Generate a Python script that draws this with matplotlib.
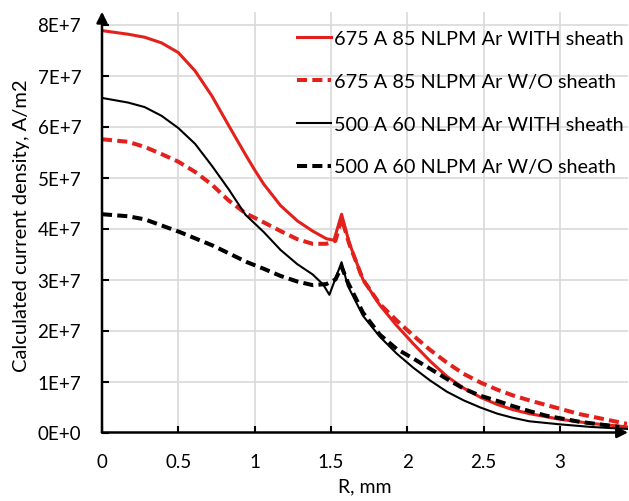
import matplotlib.pyplot as plt
from matplotlib.ticker import FuncFormatter, MultipleLocator

# radius (mm) and current density (x 1E+7 A/m2)
r_675_with = [0, 0.17, 0.28, 0.39, 0.5, 0.61, 0.72, 0.83, 0.94, 1.0, 1.06, 1.17,
              1.28, 1.38, 1.47, 1.52, 1.57, 1.62, 1.71, 1.82, 1.93, 2.04, 2.15,
              2.26, 2.37, 2.48, 2.59, 2.69, 2.80, 3.0, 3.2, 3.44]
j_675_with = [7.88, 7.81, 7.75, 7.64, 7.45, 7.09, 6.60, 6.02, 5.45, 5.15, 4.87, 4.45,
              4.15, 3.95, 3.80, 3.77, 4.28, 3.72, 3.00, 2.50, 2.10, 1.74, 1.40,
              1.10, 0.87, 0.69, 0.55, 0.45, 0.37, 0.26, 0.18, 0.11]

r_675_wo = [0, 0.17, 0.28, 0.39, 0.5, 0.61, 0.72, 0.83, 0.94, 1.06, 1.17, 1.28,
            1.38, 1.47, 1.53, 1.57, 1.62, 1.71, 1.82, 1.93, 2.04, 2.15, 2.26,
            2.37, 2.48, 2.59, 2.69, 2.80, 2.91, 3.13, 3.44]
j_675_wo = [5.75, 5.70, 5.60, 5.46, 5.31, 5.11, 4.86, 4.55, 4.30, 4.12, 3.95, 3.79,
            3.70, 3.70, 3.76, 4.20, 3.70, 3.00, 2.52, 2.20, 1.90, 1.62, 1.37,
            1.15, 0.98, 0.84, 0.73, 0.63, 0.54, 0.36, 0.17]

r_500_with = [0, 0.17, 0.28, 0.39, 0.5, 0.61, 0.72, 0.83, 0.94, 1.06, 1.17, 1.28,
              1.38, 1.45, 1.49, 1.57, 1.61, 1.71, 1.82, 1.93, 2.04, 2.15, 2.26,
              2.37, 2.48, 2.59, 2.69, 2.80, 3.0, 3.2, 3.44]
j_500_with = [6.56, 6.47, 6.38, 6.21, 5.97, 5.66, 5.23, 4.77, 4.27, 3.93, 3.58, 3.30,
              3.10, 2.90, 2.70, 3.34, 2.88, 2.29, 1.88, 1.55, 1.27, 1.02, 0.80,
              0.63, 0.49, 0.37, 0.29, 0.22, 0.16, 0.11, 0.07]

r_500_wo = [0, 0.17, 0.28, 0.39, 0.51, 0.73, 0.95, 1.06, 1.17, 1.28, 1.38, 1.47,
            1.53, 1.57, 1.61, 1.71, 1.82, 1.93, 2.04, 2.15, 2.26, 2.37, 2.48,
            2.59, 2.69, 2.80, 2.91, 3.13, 3.39]
j_500_wo = [4.28, 4.24, 4.18, 4.06, 3.93, 3.66, 3.34, 3.21, 3.07, 2.96, 2.89, 2.91,
            3.00, 3.25, 2.95, 2.35, 1.92, 1.64, 1.45, 1.25, 1.05, 0.86, 0.72,
            0.62, 0.52, 0.42, 0.33, 0.21, 0.11]

labels = ["675 A 85 NLPM Ar WITH sheath", "675 A 85 NLPM Ar W/O sheath",
          "500 A 60 NLPM Ar WITH sheath", "500 A 60 NLPM Ar W/O sheath"]

RED = "#e3211c"
W, H = 629, 502

plt.rcParams["font.family"] = ["Lato", "DejaVu Sans"]

fig = plt.figure(figsize=(W / 100, H / 100), dpi=100)
ax = fig.add_axes([102 / W, 1 - 433.5 / H, (628 - 102) / W, (433.5 - 12.75) / H])

dash = (0, (2.5, 1.3))
ax.plot(r_675_with, [v * 1e7 for v in j_675_with], color=RED, lw=2.2, label=labels[0])
ax.plot(r_675_wo, [v * 1e7 for v in j_675_wo], color=RED, lw=2.9, ls=dash, label=labels[1])
ax.plot(r_500_with, [v * 1e7 for v in j_500_with], color="black", lw=1.5, label=labels[2])
ax.plot(r_500_wo, [v * 1e7 for v in j_500_wo], color="black", lw=2.9, ls=dash, label=labels[3])

ax.set_xlim(0, (628 - 102) / 152.6)
ax.set_ylim(0, 8.25e7)
ax.xaxis.set_major_locator(MultipleLocator(0.5))
ax.yaxis.set_major_locator(MultipleLocator(1e7))
ax.xaxis.set_major_formatter(FuncFormatter(lambda v, _: f"{v:g}"))
ax.yaxis.set_major_formatter(
    FuncFormatter(lambda v, _: f"{v / 1e7:.0f}E+7" if v > 0 else "0E+0"))
ax.tick_params(direction="in", length=5, width=1.5, pad=15, labelsize=13.5)
ax.grid(color="#d9d9d9", lw=1.2)
ax.set_axisbelow(True)

for s in ax.spines.values():
    s.set_visible(False)
arrow = dict(arrowstyle="-|>", color="black", lw=1.8, mutation_scale=16,
             shrinkA=0, shrinkB=0)
ax.annotate("", xy=(1, 0), xytext=(0, 0), xycoords="axes fraction", arrowprops=arrow)
ax.annotate("", xy=(0, 1), xytext=(0, 0), xycoords="axes fraction", arrowprops=arrow)

fig.text(365 / W, 1 - 487 / H, "R, mm", ha="center", va="center", fontsize=14)
fig.text(22 / W, 1 - 226 / H, "Calculated current density, A/m2", rotation=90,
         ha="center", va="center", fontsize=14.5)

ax.legend(loc="upper left", bbox_to_anchor=(297 / W, 1 - 31 / H),
          bbox_transform=fig.transFigure, frameon=False, fontsize=14.3,
          borderpad=0, borderaxespad=0, handlelength=1.7, handletextpad=0.15,
          labelspacing=1.3)

fig.savefig("out.png", dpi=100)
